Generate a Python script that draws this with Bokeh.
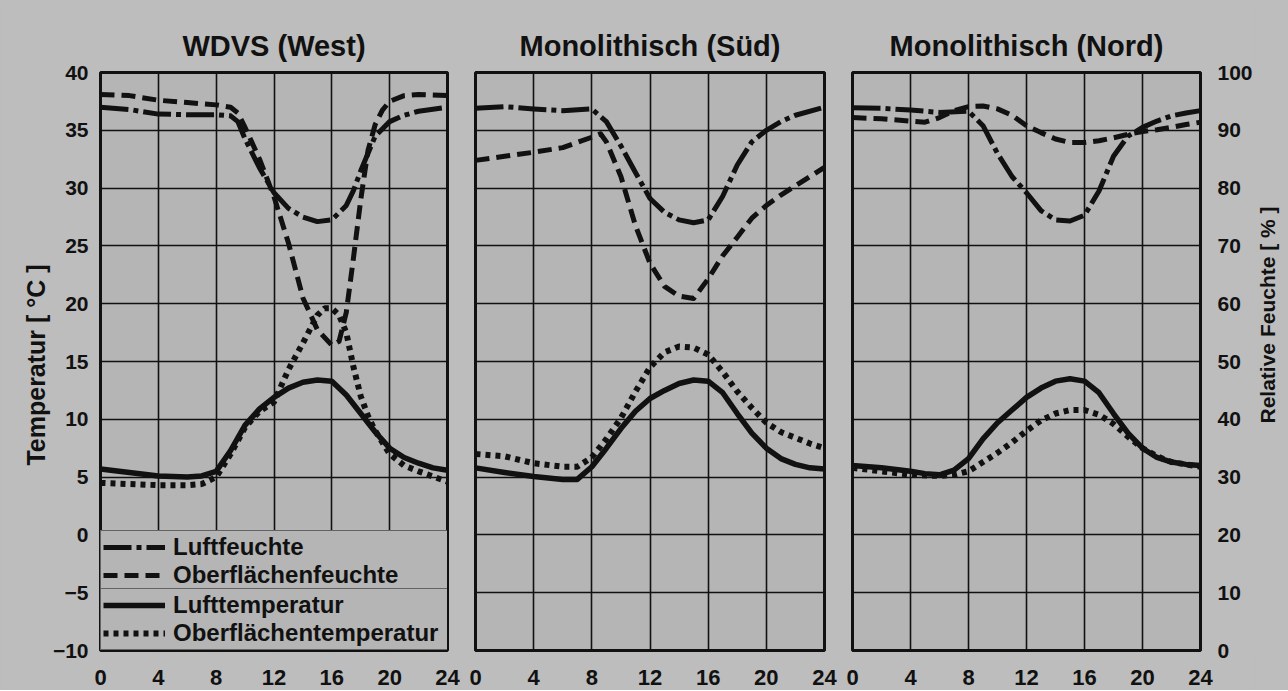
import math
from bokeh.plotting import figure
from bokeh.models import Range1d, LinearAxis, FixedTicker, Grid, Legend, LegendItem, Label
from bokeh.layouts import row
from bokeh.embed import file_html
from bokeh.resources import INLINE

# ---------------- data ----------------
titles = ["WDVS (West)", "Monolithisch (Süd)", "Monolithisch (Nord)"]
x_ticks = [0, 4, 8, 12, 16, 20, 24]
temp_ticks = [-10, -5, 0, 5, 10, 15, 20, 25, 30, 35, 40]
rh_ticks = [0, 10, 20, 30, 40, 50, 60, 70, 80, 90, 100]
series_labels = ["Luftfeuchte", "Oberflächenfeuchte", "Lufttemperatur", "Oberflächentemperatur"]
left_axis_title = "Temperatur  [ °C ]"
right_axis_title = "Relative Feuchte  [ % ]"

# WDVS (West)
west_lf_hours = [0, 2, 4, 6, 8, 9, 9.5, 10, 11, 12, 13, 14, 15, 16, 17, 17.5, 18, 19, 20, 21, 22, 24]
west_lf = [94, 93.6, 92.8, 92.7, 92.7, 92.5, 91.5, 88.5, 83.5, 79.2, 76.5, 75, 74.2, 74.5, 77, 79.6, 83, 89, 91.5, 92.6, 93.3, 94]
west_of_hours = [0, 2, 4, 6, 8, 9, 9.5, 10, 11, 12, 13, 14, 15, 16, 16.5, 17, 17.5, 18, 18.5, 19, 19.5, 20, 21, 22, 24]
west_of = [96.2, 96.0, 95.2, 94.8, 94.4, 94.0, 93.0, 90.5, 85.0, 78.5, 70.5, 61.0, 55.5, 52.8, 53.5, 58.5, 68.0, 78.0, 86.5, 91.0, 93.5, 95.0, 96.0, 96.2, 96.0]
west_lt_hours = [0, 2, 4, 6, 7, 8, 9, 10, 11, 12, 13, 14, 15, 16, 17, 18, 19, 20, 21, 22, 23, 24]
west_lt = [5.7, 5.4, 5.1, 5.0, 5.1, 5.5, 7.3, 9.5, 10.9, 11.9, 12.7, 13.2, 13.4, 13.3, 12.1, 10.5, 8.9, 7.5, 6.7, 6.2, 5.8, 5.6]
west_ot_hours = [0, 2, 4, 6, 7, 8, 9, 10, 11, 12, 13, 14, 15, 15.5, 16, 16.5, 17, 17.5, 18, 18.5, 19, 20, 21, 22, 24]
west_ot = [4.5, 4.4, 4.3, 4.3, 4.4, 5.0, 7.0, 9.3, 10.7, 11.5, 14.3, 16.6, 19.0, 19.6, 19.6, 19.0, 17.5, 14.5, 12.0, 10.3, 9.0, 7.0, 6.0, 5.5, 4.6]

# Monolithisch (Süd)
sued_lf_hours = [0, 2, 4, 6, 8, 9, 10, 11, 12, 13, 14, 15, 16, 17, 18, 19, 20, 21, 22, 24]
sued_lf = [93.8, 94.1, 93.7, 93.4, 93.7, 91.5, 87.3, 82.7, 78.2, 75.8, 74.5, 74.0, 74.5, 78.6, 84.0, 88.0, 90.0, 91.5, 92.6, 94.0]
sued_of_hours = [0, 2, 4, 6, 8, 8.6, 9, 10, 11, 12, 13, 14, 15, 16, 17, 18, 19, 20, 21, 22, 23, 24]
sued_of = [84.8, 85.5, 86.2, 87.0, 88.8, 89.4, 88.0, 82.0, 73.5, 67.0, 63.0, 61.3, 60.9, 64.3, 68.3, 71.5, 74.8, 77.0, 78.8, 80.4, 82.0, 83.6]
sued_lt_hours = [0, 2, 4, 6, 7, 8, 9, 10, 11, 12, 13, 14, 15, 16, 17, 18, 19, 20, 21, 22, 23, 24]
sued_lt = [5.8, 5.4, 5.05, 4.8, 4.8, 5.9, 7.5, 9.2, 10.7, 11.8, 12.5, 13.1, 13.4, 13.3, 12.3, 10.5, 8.8, 7.5, 6.6, 6.1, 5.8, 5.7]
sued_ot_hours = [0, 2, 4, 6, 7, 8, 9, 10, 11, 12, 13, 14, 15, 16, 17, 18, 19, 20, 21, 22, 23, 24]
sued_ot = [7.0, 6.8, 6.2, 5.9, 5.9, 6.7, 8.3, 10.1, 12.4, 14.5, 15.8, 16.3, 16.2, 15.6, 14.1, 12.4, 11.0, 9.7, 8.9, 8.4, 7.9, 7.5]

# Monolithisch (Nord)
nord_lf_hours = [0, 2, 4, 6, 8, 9, 10, 11, 12, 13, 14, 15, 16, 17, 18, 19, 20, 21, 22, 23, 24]
nord_lf = [93.9, 93.8, 93.5, 93.1, 93.3, 90.8, 86.0, 82.0, 79.2, 76.1, 74.5, 74.3, 75.3, 79.5, 85.5, 89.0, 90.5, 91.6, 92.5, 93.0, 93.4]
nord_of_hours = [0, 2, 4, 5, 6, 7, 8, 9, 10, 11, 12, 13, 14, 15, 16, 17, 18, 19, 20, 21, 22, 23, 24]
nord_of = [92.2, 92.0, 91.6, 91.4, 92.2, 93.4, 94.1, 94.2, 93.7, 92.6, 90.8, 89.6, 88.5, 87.9, 87.9, 88.2, 88.7, 89.3, 89.8, 90.1, 90.5, 91.0, 91.4]
nord_lt_hours = [0, 2, 4, 5, 6, 7, 8, 9, 10, 11, 12, 13, 14, 15, 16, 17, 18, 19, 20, 21, 22, 23, 24]
nord_lt = [6.0, 5.8, 5.5, 5.3, 5.2, 5.6, 6.6, 8.3, 9.7, 10.8, 11.9, 12.7, 13.3, 13.5, 13.3, 12.3, 10.5, 8.8, 7.5, 6.7, 6.3, 6.1, 6.0]
nord_ot_hours = [0, 2, 4, 6, 7, 8, 9, 10, 11, 12, 13, 14, 15, 16, 17, 18, 19, 20, 21, 22, 23, 24]
nord_ot = [5.8, 5.5, 5.2, 5.1, 5.2, 5.5, 6.3, 7.1, 8.0, 9.0, 9.9, 10.5, 10.8, 10.8, 10.4, 9.6, 8.5, 7.5, 6.8, 6.3, 6.1, 5.9]

panels = [
    (west_lf_hours, west_lf, west_of_hours, west_of, west_lt_hours, west_lt, west_ot_hours, west_ot),
    (sued_lf_hours, sued_lf, sued_of_hours, sued_of, sued_lt_hours, sued_lt, sued_ot_hours, sued_ot),
    (nord_lf_hours, nord_lf, nord_of_hours, nord_of, nord_lt_hours, nord_lt, nord_ot_hours, nord_ot),
]

# ---------------- style ----------------
FONT = "Liberation Sans"
BG = "#b5b5b5"
BORDER = "#bdbdbd"
INK = "#111111"
HEIGHT = 690

geom = [
    # width, min_border_left, min_border_right
    (460, 100, 13),
    (378, 15, 14),
    (417, 14, 55),
]


def make_panel(i):
    w, bl, br = geom[i]
    p = figure(
        width=w, height=HEIGHT,
        x_range=Range1d(0, 24), y_range=Range1d(-10, 40),
        output_backend="svg", toolbar_location=None,
        y_axis_location="left" if i == 0 else None,
        min_border_left=bl, min_border_right=br,
        min_border_top=72, min_border_bottom=40,
        background_fill_color=BG, border_fill_color=BORDER,
        title=titles[i],
    )
    p.extra_y_ranges = {"rh": Range1d(0, 100)}
    p.outline_line_color = INK
    p.outline_line_width = 3

    p.title.align = "center"
    p.title.text_font = FONT
    p.title.text_font_size = "29px"
    p.title.text_font_style = "bold"
    p.title.text_color = INK
    p.title.standoff = 22

    # grids
    for g in p.grid:
        g.visible = False
    p.add_layout(Grid(dimension=0, ticker=FixedTicker(ticks=x_ticks),
                      grid_line_color=INK, grid_line_width=1.6))
    p.add_layout(Grid(dimension=1, ticker=FixedTicker(ticks=temp_ticks),
                      grid_line_color=INK, grid_line_width=1.6))

    # x axis
    xa = p.xaxis[0]
    xa.ticker = FixedTicker(ticks=x_ticks)
    xa.axis_line_color = None
    xa.major_tick_line_color = None
    xa.minor_tick_line_color = None
    xa.major_label_text_font = FONT
    xa.major_label_text_font_size = "22px"
    xa.major_label_text_font_style = "bold"
    xa.major_label_text_color = INK
    xa.major_label_standoff = 13

    if i == 0:
        ya = p.yaxis[0]
        ya.ticker = FixedTicker(ticks=temp_ticks)
        ya.axis_line_color = None
        ya.major_tick_line_color = None
        ya.minor_tick_line_color = None
        ya.major_label_text_font = FONT
        ya.major_label_text_font_size = "21px"
        ya.major_label_text_font_style = "bold"
        ya.major_label_text_color = INK
        ya.major_label_standoff = 6
        ya.axis_label = left_axis_title
        ya.axis_label_text_font = FONT
        ya.axis_label_text_font_size = "25px"
        ya.axis_label_text_font_style = "bold"
        ya.axis_label_text_color = INK
        ya.axis_label_standoff = 0

    if i == 2:
        ra = LinearAxis(y_range_name="rh", ticker=FixedTicker(ticks=rh_ticks))
        ra.axis_line_color = None
        ra.major_tick_line_color = None
        ra.minor_tick_line_color = None
        ra.major_label_text_font = FONT
        ra.major_label_text_font_size = "21px"
        ra.major_label_text_font_style = "bold"
        ra.major_label_text_color = INK
        ra.major_label_standoff = 11
        p.add_layout(ra, "right")

    lfh, lf, ofh, of, lth, lt, oth, ot = panels[i]
    r_lf = p.line(lfh, lf, y_range_name="rh", line_color=INK, line_width=5,
                  line_dash="28 5 5 5", line_join="round")
    r_of = p.line(ofh, of, y_range_name="rh", line_color=INK, line_width=5,
                  line_dash="14 7", line_join="round")
    r_lt = p.line(lth, lt, line_color=INK, line_width=5.5, line_join="round")
    r_ot = p.line(oth, ot, line_color=INK, line_width=6, line_dash="5 5")

    if i == 0:
        common = dict(
            label_text_font=FONT, label_text_font_size="24px",
            label_text_font_style="bold", label_text_color=INK,
            glyph_width=62, glyph_height=22, label_height=22, label_width=273,
            label_standoff=8, padding=2, spacing=0, margin=0,
            background_fill_color=BG, background_fill_alpha=1.0,
            border_line_color=INK, border_line_width=1.6,
        )
        lg_top = Legend(items=[LegendItem(label=series_labels[0], renderers=[r_lf]),
                               LegendItem(label=series_labels[1], renderers=[r_of])],
                        location=(0, 58), **common)
        lg_bot = Legend(items=[LegendItem(label=series_labels[2], renderers=[r_lt]),
                               LegendItem(label=series_labels[3], renderers=[r_ot])],
                        location=(0, 0), **common)
        p.add_layout(lg_top)
        p.add_layout(lg_bot)
    return p


figs = [make_panel(i) for i in range(3)]

# narrow strip on the right holding the rotated humidity axis title
side = figure(
    width=33, height=HEIGHT, x_range=Range1d(0, 1), y_range=Range1d(0, 1),
    output_backend="svg", toolbar_location=None,
    x_axis_location=None, y_axis_location=None,
    min_border=0, min_border_left=0, min_border_right=0,
    min_border_top=0, min_border_bottom=0,
    background_fill_color=BORDER, border_fill_color=BORDER,
    outline_line_color=None,
)
for g in side.grid:
    g.visible = False
side.add_layout(Label(
    x=12, y=HEIGHT - 463, x_units="screen", y_units="screen",
    text=right_axis_title, angle=math.pi / 2,
    text_align="left", text_baseline="middle",
    text_font=FONT, text_font_size="21px", text_font_style="bold",
    text_color=INK,
))

layout = row(*figs, side, styles={"background-color": BORDER})
open("out.html", "w").write(file_html(layout, INLINE))
